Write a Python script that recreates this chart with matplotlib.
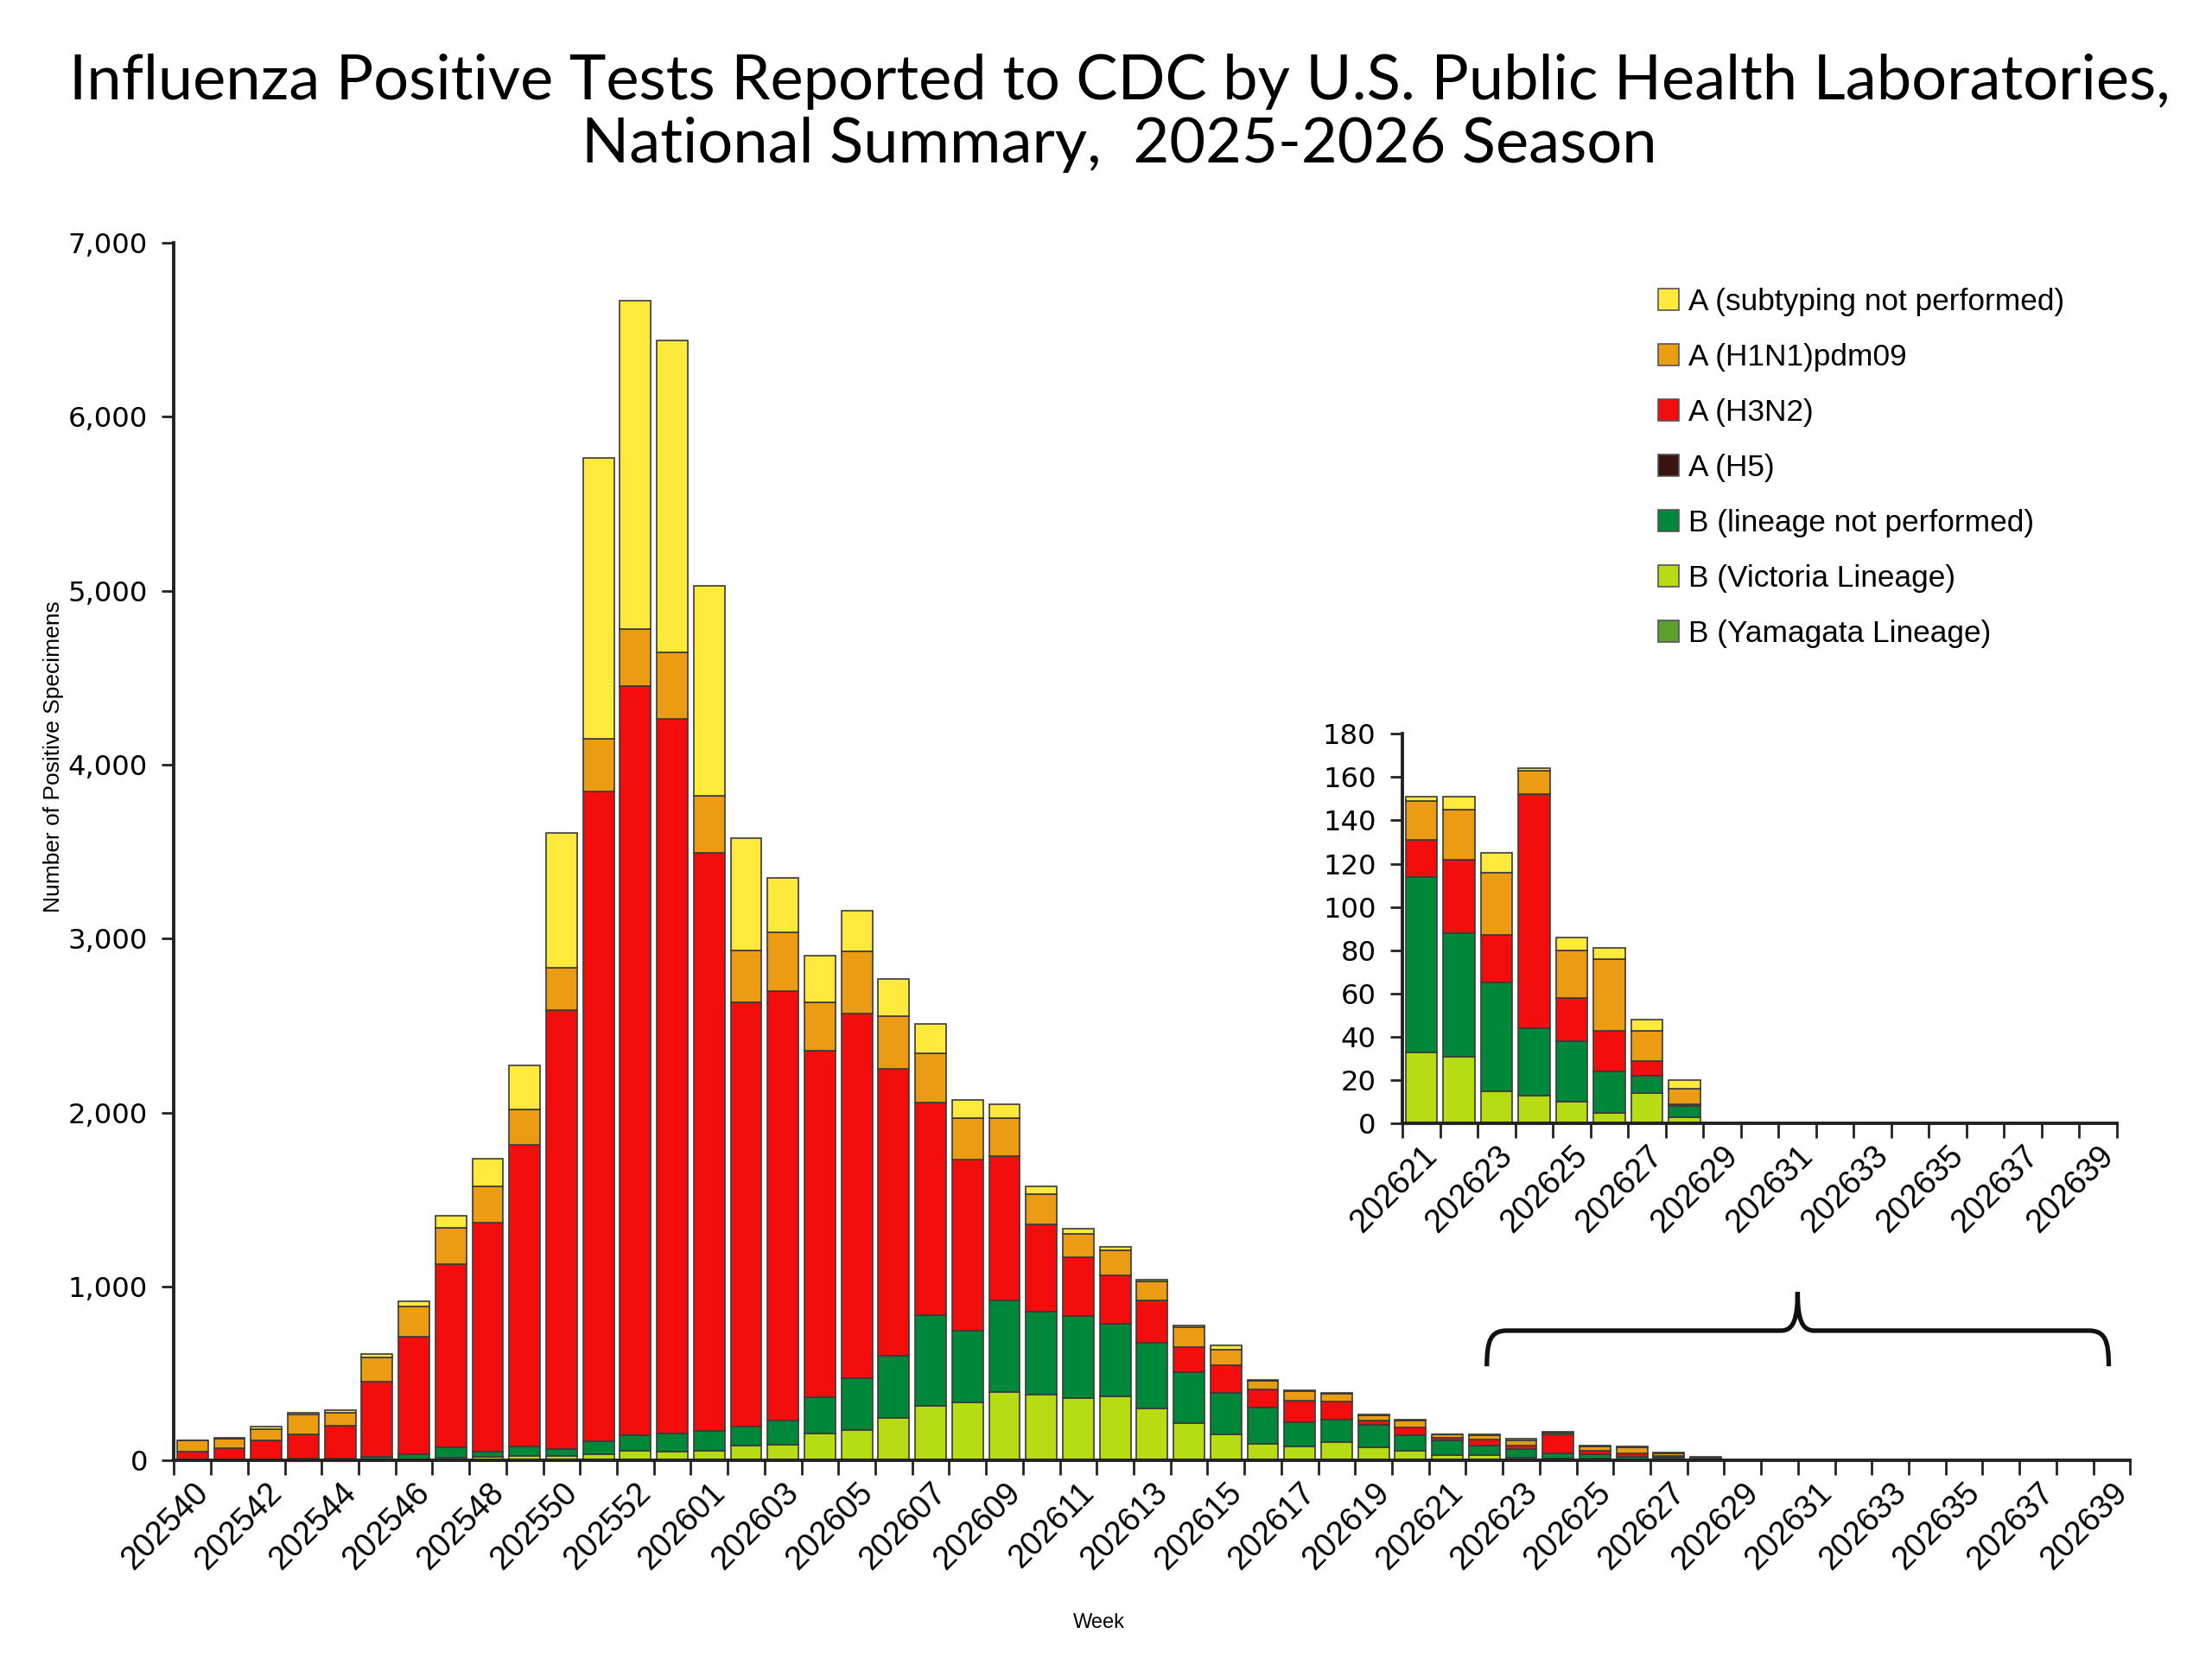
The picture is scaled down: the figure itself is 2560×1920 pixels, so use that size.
import matplotlib
matplotlib.use("Agg")
import numpy as np
import matplotlib.pyplot as plt
from matplotlib.path import Path
from matplotlib.patches import Patch, PathPatch

plt.rcParams["font.family"] = ["Liberation Sans", "DejaVu Sans"]

# ---------------------------
# Data (MMWR weeks 202540 - 202639, 2025 has 53 weeks)
# ---------------------------

weeks = [f"2025{w}" for w in range(40, 54)] + [f"2026{w:02d}" for w in range(1, 40)]

yamagata = [0] * 53

victoria = [2, 2, 2, 3, 3, 5, 8, 15, 20, 25, 25, 35, 56, 51, 55,
            84, 93, 158, 176, 246, 316, 334, 394, 381, 357, 367, 302, 213, 153, 97,
            81, 106, 77, 55,
            33, 31, 15, 13, 10, 5, 14, 3,
            0, 0, 0, 0, 0, 0, 0, 0, 0, 0, 0]

b_not_performed = [6, 4, 5, 8, 10, 18, 29, 59, 31, 54, 40, 76, 92, 107, 117,
                   111, 139, 204, 297, 357, 519, 413, 529, 473, 474, 422, 375, 297, 237, 209,
                   137, 129, 130, 90,
                   81, 57, 50, 31, 28, 19, 8, 5,
                   0, 0, 0, 0, 0, 0, 0, 0, 0, 0, 0]

h5 = [0] * 53

h3n2 = [43, 64, 109, 142, 187, 432, 673, 1054, 1318, 1735, 2524, 3736, 4302, 4107, 3322,
        2441, 2469, 1995, 2098, 1648, 1225, 984, 826, 506, 338, 274, 242, 144, 158, 102,
        127, 106, 22, 47,
        17, 34, 22, 108, 20, 19, 7, 1,
        0, 0, 0, 0, 0, 0, 0, 0, 0, 0, 0]

h1n1 = [65, 55, 65, 112, 74, 139, 176, 208, 209, 205, 246, 301, 330, 380, 325,
        297, 334, 279, 357, 306, 279, 237, 219, 171, 135, 148, 111, 112, 92, 51,
        52, 44, 30, 38,
        18, 23, 29, 11, 22, 33, 14, 7,
        0, 0, 0, 0, 0, 0, 0, 0, 0, 0, 0]

a_not_subtyped = [2, 5, 14, 9, 18, 18, 28, 70, 157, 250, 771, 1615, 1888, 1791, 1211,
                  645, 315, 264, 232, 213, 171, 106, 78, 47, 28, 19, 9, 9, 24, 3,
                  5, 5, 5, 5,
                  2, 6, 9, 1, 6, 5, 5, 4,
                  0, 0, 0, 0, 0, 0, 0, 0, 0, 0, 0]

# stacked bottom -> top
series = [
    ("B (Yamagata Lineage)", yamagata, "#5aa02c"),
    ("B (Victoria Lineage)", victoria, "#b6dc14"),
    ("B (lineage not performed)", b_not_performed, "#00883a"),
    ("A (H5)", h5, "#3a1410"),
    ("A (H3N2)", h3n2, "#f40d0d"),
    ("A (H1N1)pdm09", h1n1, "#ec9c12"),
    ("A (subtyping not performed)", a_not_subtyped, "#ffe93c"),
]

inset_start = weeks.index("202621")
main_yticks = list(range(0, 7001, 1000))
inset_yticks = list(range(0, 181, 20))


def draw_stack(ax, start, stop):
    x = np.arange(stop - start)
    bottom = np.zeros(len(x))
    for name, vals, color in series:
        v = np.array(vals[start:stop], dtype=float)
        ax.bar(x, v, bottom=bottom, width=0.84, color=color,
               edgecolor="#3a3a3a", linewidth=0.6, zorder=2)
        bottom += v
    return x


def style_axes(ax, n, labels, yticks):
    for side in ("top", "right"):
        ax.spines[side].set_visible(False)
    for side in ("left", "bottom"):
        ax.spines[side].set_color("#222222")
        ax.spines[side].set_linewidth(1.4)
    ax.set_xlim(-0.5, n - 0.5)
    ax.set_xticks(np.arange(0, n, 2))
    ax.set_xticklabels(labels[::2], rotation=45, ha="right", va="top",
                       rotation_mode="anchor", fontsize=13.5)
    ax.set_xticks(np.arange(n + 1) - 0.5, minor=True)
    ax.tick_params(axis="x", which="major", length=0, pad=7)
    ax.tick_params(axis="x", which="minor", length=6, width=1.0, color="#222222")
    ax.set_ylim(yticks[0], yticks[-1])
    ax.set_yticks(yticks, labels=[f"{v:,}" for v in yticks],
                  fontsize=11.6, fontfamily="DejaVu Sans")
    ax.tick_params(axis="y", length=5, width=1.0, color="#222222", pad=6)


fig = plt.figure(figsize=(12.8, 9.6), dpi=200)

# ---------------------------
# Main chart
# ---------------------------

ax = fig.add_axes([0.0787, 0.1196, 0.8843, 0.7341])
draw_stack(ax, 0, len(weeks))
style_axes(ax, len(weeks), weeks, main_yticks)
ax.set_ylabel("Number of Positive Specimens", fontsize=9.5)
ax.yaxis.set_label_coords(-0.0565, 0.578)
ax.set_xlabel("Week", fontsize=8.5)
ax.xaxis.set_label_coords(0.473, -0.125)

# brace over the inset range
x0, x1, xc = 35.07, 51.92, 43.49
yb, yh, yt = 542, 747, 968
verts = [
    (x0, yb), (x0, 690), (x0 + 0.1, yh), (x0 + 0.55, yh),
    (xc - 0.45, yh),
    (xc - 0.1, yh), (xc, 820), (xc, yt),
    (xc, 820), (xc + 0.1, yh), (xc + 0.45, yh),
    (x1 - 0.55, yh),
    (x1 - 0.1, yh), (x1, 690), (x1, yb),
]
codes = [Path.MOVETO, Path.CURVE4, Path.CURVE4, Path.CURVE4,
         Path.LINETO,
         Path.CURVE4, Path.CURVE4, Path.CURVE4,
         Path.CURVE4, Path.CURVE4, Path.CURVE4,
         Path.LINETO,
         Path.CURVE4, Path.CURVE4, Path.CURVE4]
ax.add_patch(PathPatch(Path(verts, codes), fill=False, lw=1.9,
                       edgecolor="#111111", clip_on=False, zorder=3))

# ---------------------------
# Legend
# ---------------------------

handles = [Patch(facecolor=c, edgecolor="#555555", linewidth=0.6, label=n)
           for n, v, c in series[::-1]]
fig.legend(handles=handles, loc="upper left", bbox_to_anchor=(0.744, 0.834),
           frameon=False, fontsize=12.7, handlelength=0.7, handleheight=0.7,
           handletextpad=0.3, labelspacing=0.88, borderaxespad=0)

# ---------------------------
# Inset (202621 onwards)
# ---------------------------

iax = fig.add_axes([0.634, 0.3227, 0.323, 0.235])
draw_stack(iax, inset_start, len(weeks))
style_axes(iax, len(weeks) - inset_start, weeks[inset_start:], inset_yticks)

fig.text(0.506, 0.932,
         "Influenza Positive Tests Reported to CDC by U.S. Public Health Laboratories,\n"
         "National Summary,  2025-2026 Season",
         ha="center", va="center", fontsize=26, family=["Lato", "DejaVu Sans"],
         linespacing=1.15)

fig.savefig("out.png", dpi=200, facecolor="white")
